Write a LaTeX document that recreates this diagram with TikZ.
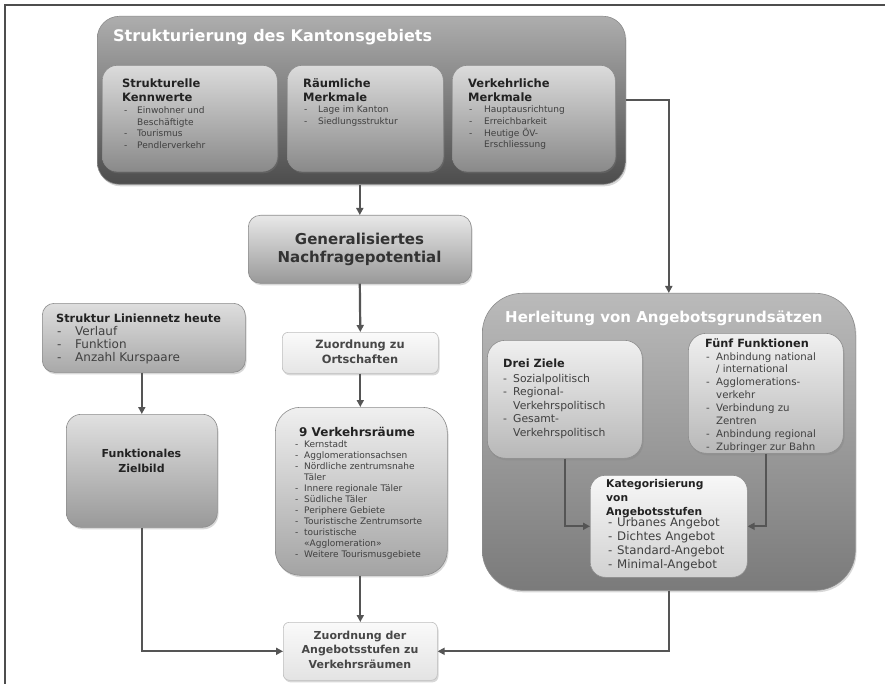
\documentclass[tikz,border=0pt]{standalone}
\usepackage{fontspec}
\setmainfont{DejaVu Sans}
\usetikzlibrary{arrows.meta,shadows}
\definecolor{conn}{HTML}{555555}
\definecolor{frame}{HTML}{4D4D4D}
\definecolor{txtd}{HTML}{222222}
\definecolor{txtm}{HTML}{404040}
\newcommand{\lst}[2]{\begin{tabular}[t]{@{}p{#1}@{}l@{}}#2\end{tabular}}
\newcommand{\ttab}[1]{\begin{tabular}[t]{@{}l@{}}#1\end{tabular}}
\newcommand{\ctab}[1]{\begin{tabular}[t]{@{}c@{}}#1\end{tabular}}
\tikzset{
  box/.style={rounded corners=#1, anchor=north west, inner sep=0pt, draw=black!45, line width=0.6pt,
    drop shadow={shadow xshift=1.2pt, shadow yshift=-2pt, opacity=.3}},
  txt/.style={inner sep=0pt, text=txtd},
  fs/.style 2 args={font=\fontsize{#1}{#2}\selectfont},
  fb/.style 2 args={font=\fontsize{#1}{#2}\selectfont\bfseries},
  conn/.style={draw=conn, line width=2.2pt, -{Triangle[length=7pt,width=7pt]}},
}
\begin{document}
\begin{tikzpicture}[x=1pt,y=-1pt]
\useasboundingbox (0,0) rectangle (885,684);
\fill[white] (0,0) rectangle (885,684);
\draw[frame, line width=1.5pt] (5,684) -- (5,5) -- (885,5);

% ===== Top box =====
\node[box=22pt, top color=black!32, bottom color=black!70, minimum width=528pt, minimum height=168pt] (kanton) at (97,16) {};
\node[txt, text=white, fb={16}{18}, anchor=base west] (kantonT) at (113,42) {Strukturierung des Kantonsgebiets};

\node[box=15pt, top color=black!14, bottom color=black!46, minimum width=175pt, minimum height=106pt] (b1) at (102,65) {};
\node[txt, fb={11.5}{14}, anchor=base west] (b1T) at (122,87.5) {\ttab{Strukturelle\\Kennwerte}};
\node[txt, fs={9}{11.5}, text=txtm, anchor=base west] (b1L) at (124,114) {\lst{13pt}{-&Einwohner und\\&Beschäftigte\\-&Tourismus\\-&Pendlerverkehr}};

\node[box=15pt, top color=black!14, bottom color=black!46, minimum width=156pt, minimum height=106pt] (b2) at (287,65) {};
\node[txt, fb={11.5}{14}, anchor=base west] (b2T) at (303,87.5) {\ttab{Räumliche\\Merkmale}};
\node[txt, fs={9}{12}, text=txtm, anchor=base west] (b2L) at (304,112.5) {\lst{14pt}{-&Lage im Kanton\\-&Siedlungsstruktur}};

\node[box=15pt, top color=black!14, bottom color=black!46, minimum width=163pt, minimum height=106pt] (b3) at (452,65) {};
\node[txt, fb={11.5}{14}, anchor=base west] (b3T) at (468,87.5) {\ttab{Verkehrliche\\Merkmale}};
\node[txt, fs={9}{11.8}, text=txtm, anchor=base west] (b3L) at (469,112.5) {\lst{15pt}{-&Hauptausrichtung\\-&Erreichbarkeit\\-&Heutige ÖV-\\&Erschliessung}};

% ===== Generalisiertes =====
\node[box=12pt, top color=black!9, bottom color=black!40, minimum width=223pt, minimum height=68pt] (gen) at (248,215) {};
\node[txt, fb={15}{18}, text=black!80, anchor=base] (genT) at (359.5,245) {\ctab{Generalisiertes\\Nachfragepotential}};

% ===== Ortschaften =====
\node[box=6pt, draw=black!25, top color=black!2, bottom color=black!10, minimum width=156pt, minimum height=41pt] (ort) at (282,332) {};
\node[txt, fb={11.4}{15}, text=black!72, anchor=base] (ortT) at (360,348) {\ctab{Zuordnung zu\\Ortschaften}};

% ===== Struktur Liniennetz =====
\node[box=12pt, top color=black!13, bottom color=black!34, minimum width=203pt, minimum height=69pt] (struk) at (42,303) {};
\node[txt, fb={11.3}{14}, anchor=base west] (strukT) at (56,322) {Struktur Liniennetz heute};
\node[txt, fs={12}{13.2}, text=txtm, anchor=base west] (strukL) at (57,335) {\lst{18pt}{-&Verlauf\\-&Funktion\\-&Anzahl Kurspaare}};

% ===== Funktionales Zielbild =====
\node[box=15pt, top color=black!12, bottom color=black!40, minimum width=151pt, minimum height=113pt] (funk) at (66,414) {};
\node[txt, fb={11}{15.5}, anchor=base] (funkT) at (141.5,457) {\ctab{Funktionales\\Zielbild}};

% ===== Verkehrsraeume =====
\node[box=25pt, top color=black!6, bottom color=black!36, minimum width=172pt, minimum height=168pt] (vr) at (275,407) {};
\node[txt, fb={12}{14}, anchor=base west] (vrT) at (299,436) {9 Verkehrsräume};
\node[txt, fs={9}{11}, text=txtm, anchor=base west] (vrL) at (295,447) {\lst{9pt}{-&Kernstadt\\-&Agglomerationsachsen\\-&Nördliche zentrumsnahe\\&Täler\\-&Innere regionale Täler\\-&Südliche Täler\\-&Periphere Gebiete\\-&Touristische Zentrumsorte\\-&touristische\\&«Agglomeration»\\-&Weitere Tourismusgebiete}};

% ===== Herleitung =====
\node[box=40pt, top color=black!27, bottom color=black!52, minimum width=373pt, minimum height=297pt] (herl) at (482,293) {};
\node[txt, text=white, fb={15}{18}, anchor=base west] (herlT) at (505,322) {Herleitung von Angebotsgrundsätzen};

\node[box=18pt, top color=black!6, bottom color=black!28, minimum width=155pt, minimum height=118pt] (drei) at (487,340) {};
\node[txt, fb={11.3}{14}, anchor=base west] (dreiT) at (503,367) {Drei Ziele};
\node[txt, fs={10.8}{13.6}, text=txtm, anchor=base west] (dreiL) at (503,382) {\lst{10pt}{-&Sozialpolitisch\\-&Regional-\\&Verkehrspolitisch\\-&Gesamt-\\&Verkehrspolitisch}};

\node[box=18pt, top color=black!6, bottom color=black!28, minimum width=155pt, minimum height=120pt] (fuenf) at (688,333) {};
\node[txt, fb={11.3}{14}, anchor=base west] (fuenfT) at (705,347) {Fünf Funktionen};
\node[txt, fs={10.2}{12.9}, text=txtm, anchor=base west] (fuenfL) at (706,360) {\lst{10pt}{-&Anbindung national\\&/ international\\-&Agglomerations-\\&verkehr\\-&Verbindung zu\\&Zentren\\-&Anbindung regional\\-&Zubringer zur Bahn}};

\node[box=15pt, top color=black!3, bottom color=black!18, minimum width=157pt, minimum height=102pt] (kat) at (590,475) {};
\node[txt, fb={10.7}{14}, anchor=base west] (katT) at (606,487) {\ttab{Kategorisierung\\von\\Angebotsstufen}};
\node[txt, fs={11.8}{14}, text=txtm, anchor=base west] (katL) at (608,526) {\lst{9pt}{-&Urbanes Angebot\\-&Dichtes Angebot\\-&Standard-Angebot\\-&Minimal-Angebot}};

% ===== Zuordnung der Angebotsstufen =====
\node[box=6pt, draw=black!25, top color=black!2, bottom color=black!11, minimum width=154pt, minimum height=58pt] (zu) at (283,622) {};
\node[txt, fb={11}{14.5}, text=black!72, anchor=base] (zuT) at (360,639) {\ctab{Zuordnung der\\Angebotsstufen zu\\Verkehrsräumen}};

% ===== Connectors =====
\draw[conn] (gen.north |- kanton.south) -- (gen.north);
\draw[conn] (kanton.east) -| (herl.north);
\draw[conn] (gen.south) -- (ort.north);
\draw[conn] (ort.south) -- (vr.north -| ort.south);
\draw[conn] (vr.south -| zu.north) -- (zu.north);
\draw[conn] (struk.south -| funk.north) -- (funk.north);
\draw[conn] (funk.south) |- (zu.west);
\draw[conn] (herl.south) |- (zu.east);
\draw[conn] (drei.south) |- (kat.west);
\draw[conn] (fuenf.south) |- (kat.east);
\end{tikzpicture}
\end{document}
